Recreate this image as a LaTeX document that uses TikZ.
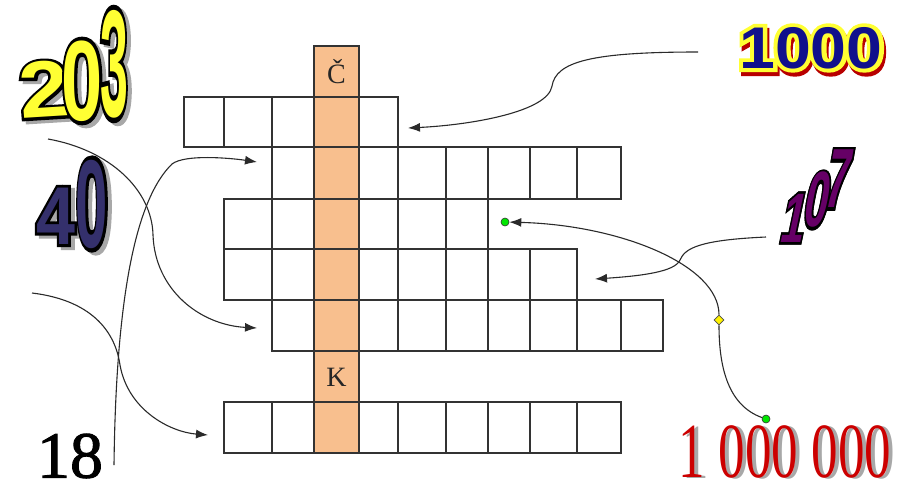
\documentclass[tikz,border=0pt]{standalone}
\usepackage{fontspec}
\usetikzlibrary{arrows.meta,calc,shapes.geometric}
\setmainfont{Liberation Serif}
\newfontfamily\LSB{Liberation Sans}[UprightFont=* Bold]
\newfontfamily\LSBo{Liberation Sans}[UprightFont=* Bold,UprightFeatures={FakeBold=7}]
\newfontfamily\LSBoo{Liberation Sans}[UprightFont=* Bold,UprightFeatures={FakeBold=13}]
\newfontfamily\LSer{Liberation Serif}
\newfontfamily\LSero{Liberation Serif}[UprightFeatures={FakeBold=1.5}]
\definecolor{cellorange}{HTML}{F8BF8E}
\definecolor{gridline}{HTML}{333333}
\definecolor{connGray}{HTML}{2A2A2A}
\definecolor{waYellow}{HTML}{FFFF33}
\definecolor{waNavy}{HTML}{34306C}
\definecolor{waBlue}{HTML}{10108C}
\definecolor{waRed}{HTML}{B80000}
\definecolor{waPurple}{HTML}{660066}
\definecolor{numRed}{HTML}{CC0000}
\definecolor{shadowGray}{HTML}{A8A8A8}
\definecolor{dotGreen}{HTML}{00E600}
\newcommand\waoff{3,3}
\newcommand\WA[9]{%
  \node[wa,#3,text=#8] at ($(#2)+(\waoff)$) {#5 #9};
  \node[wa,#3,text=#7] at (#2) {#5 #9};
  \node[wa,#3,text=#6] (#1) at (#2) {#4 #9};
}
\begin{document}
\begin{tikzpicture}[x=1pt,y=-1pt,
  wa/.style={inner sep=0pt,outer sep=0pt,anchor=center},
  cellbox/.style={draw=gridline,line width=1.3pt},
  letter/.style={inner sep=0pt,font=\fontsize{28}{28}\selectfont\LSer,text=black!85},
  conn/.style={draw=connGray,line width=1.1pt},
  tip/.style={-{Latex[length=12pt,width=9pt]}},
  gdot/.style={circle,fill=dotGreen,draw=black!80,line width=0.6pt,minimum size=8pt,inner sep=0pt},
  ydiam/.style={diamond,fill=yellow,draw=black!70,line width=0.6pt,minimum size=10pt,inner sep=0pt}]
\useasboundingbox (0,0) rectangle (899,483);
% orange solution column
\fill[cellorange] (314,46) rectangle (359,453);
% rows of cells
\foreach \a/\b in {184/224,224/272,272/314,314/359,359/398}
  \draw[cellbox] (\a,97) rectangle (\b,147);
\foreach \a/\b in {272/314,314/359,359/398,398/446,446/488,488/530,530/577,577/621}
  \draw[cellbox] (\a,147) rectangle (\b,199);
\foreach \a/\b in {224/272,272/314,314/359,359/398,398/446,446/488}
  \draw[cellbox] (\a,199) rectangle (\b,249);
\foreach \a/\b in {224/272,272/314,314/359,359/398,398/446,446/488,488/530,530/577}
  \draw[cellbox] (\a,249) rectangle (\b,300);
\foreach \a/\b in {272/314,314/359,359/398,398/446,446/488,488/530,530/577,577/621,621/663}
  \draw[cellbox] (\a,300) rectangle (\b,351);
\foreach \a/\b in {224/272,272/314,314/359,359/398,398/446,446/488,488/530,530/577,577/621}
  \draw[cellbox] (\a,402) rectangle (\b,453);
\draw[cellbox] (314,46) rectangle (359,97);
\draw[cellbox] (314,351) rectangle (359,402);
\node[letter] (lc) at (336.5,72) {Č};
\node[letter] (lk) at (336.5,377) {K};

% word-art numbers
\renewcommand\waoff{4,3}
\WA{n2a}{32,90}{font=\fontsize{100}{100}\selectfont,xscale=0.9,yscale=0.8,rotate=4}{\LSB}{\LSBo}{waYellow}{black}{shadowGray}{2}
\WA{n0a}{72,81}{font=\fontsize{100}{100}\selectfont,xscale=0.74,yscale=1.14}{\LSB}{\LSBo}{waYellow}{black}{shadowGray}{0}
\WA{n3a}{107,64}{font=\fontsize{100}{100}\selectfont,xscale=0.5,yscale=1.52}{\LSB}{\LSBo}{waYellow}{black}{shadowGray}{3}
\WA{n4b}{46,216}{font=\fontsize{100}{100}\selectfont,xscale=0.7,yscale=0.82}{\LSB}{\LSBo}{waNavy}{black}{shadowGray}{4}
\WA{n0b}{84,204}{font=\fontsize{100}{100}\selectfont,xscale=0.58,yscale=1.25}{\LSB}{\LSBo}{waNavy}{black}{shadowGray}{0}
\renewcommand\waoff{2,4}
\WA{n1000}{802,48}{font=\fontsize{56}{56}\selectfont,xscale=1.15,yscale=1.05}{\LSB}{\LSBoo}{waBlue}{waYellow}{waRed}{1000}
\renewcommand\waoff{0,0}
\WA{n107a}{789,218}{font=\fontsize{70}{70}\selectfont,xscale=0.6,xslant=0.35}{\LSB}{\LSBo}{waPurple}{black}{black}{1}
\WA{n107b}{812,200}{font=\fontsize{70}{70}\selectfont,xscale=0.6,yscale=1.12,xslant=0.35}{\LSB}{\LSBo}{waPurple}{black}{black}{0}
\WA{n107c}{833,179}{font=\fontsize{70}{70}\selectfont,xscale=0.6,yscale=1.2,xslant=0.35}{\LSB}{\LSBo}{waPurple}{black}{black}{7}
\node[wa,font=\fontsize{66}{66}\selectfont\LSero,text=black] (n18) at (70,456) {18};
\node[wa,font=\fontsize{78}{78}\selectfont\LSer,text=shadowGray,xscale=0.68] at (789,453) {1 000 000};
\node[wa,font=\fontsize{78}{78}\selectfont\LSer,text=numRed,xscale=0.68] (nmil) at (785,452) {1 000 000};

% connector end points
\coordinate (s1000) at (698,52);
\coordinate (e1000) at (408,128);
\coordinate (s203) at (48,139);
\coordinate (e203) at (257,328);
\coordinate (s18) at (114,465);
\coordinate (e18) at (257,162);
\coordinate (s40) at (32,293);
\coordinate (e40) at (208,435);
\coordinate (s107) at (766,237);
\coordinate (e107) at (595,279);
\node[gdot] (f1) at (766,419) {};
\node[ydiam] (fm) at (719,320) {};
\node[gdot] (f2) at (505,222) {};

\draw[conn,tip] (s1000) .. controls (590,52) and (556,62) .. (552,86) .. controls (548,112) and (470,125) .. (e1000);
\draw[conn,tip] (s203) .. controls (110,150) and (152,190) .. (153,235) .. controls (155,290) and (200,325) .. (e203);
\draw[conn,tip] (s18) .. controls (116,300) and (135,200) .. (172,164) .. controls (185,154) and (230,158) .. (e18);
\draw[conn,tip] (s40) .. controls (90,300) and (115,330) .. (120,365) .. controls (128,410) and (170,432) .. (e40);
\draw[conn,tip] (s107) .. controls (700,240) and (685,248) .. (680,260) .. controls (675,272) and (640,276) .. (e107);
\draw[conn] (f1) .. controls (727,405) and (719,365) .. (fm);
\draw[conn,tip] (fm) .. controls (719,265) and (620,225) .. (f2);
\end{tikzpicture}
\end{document}
